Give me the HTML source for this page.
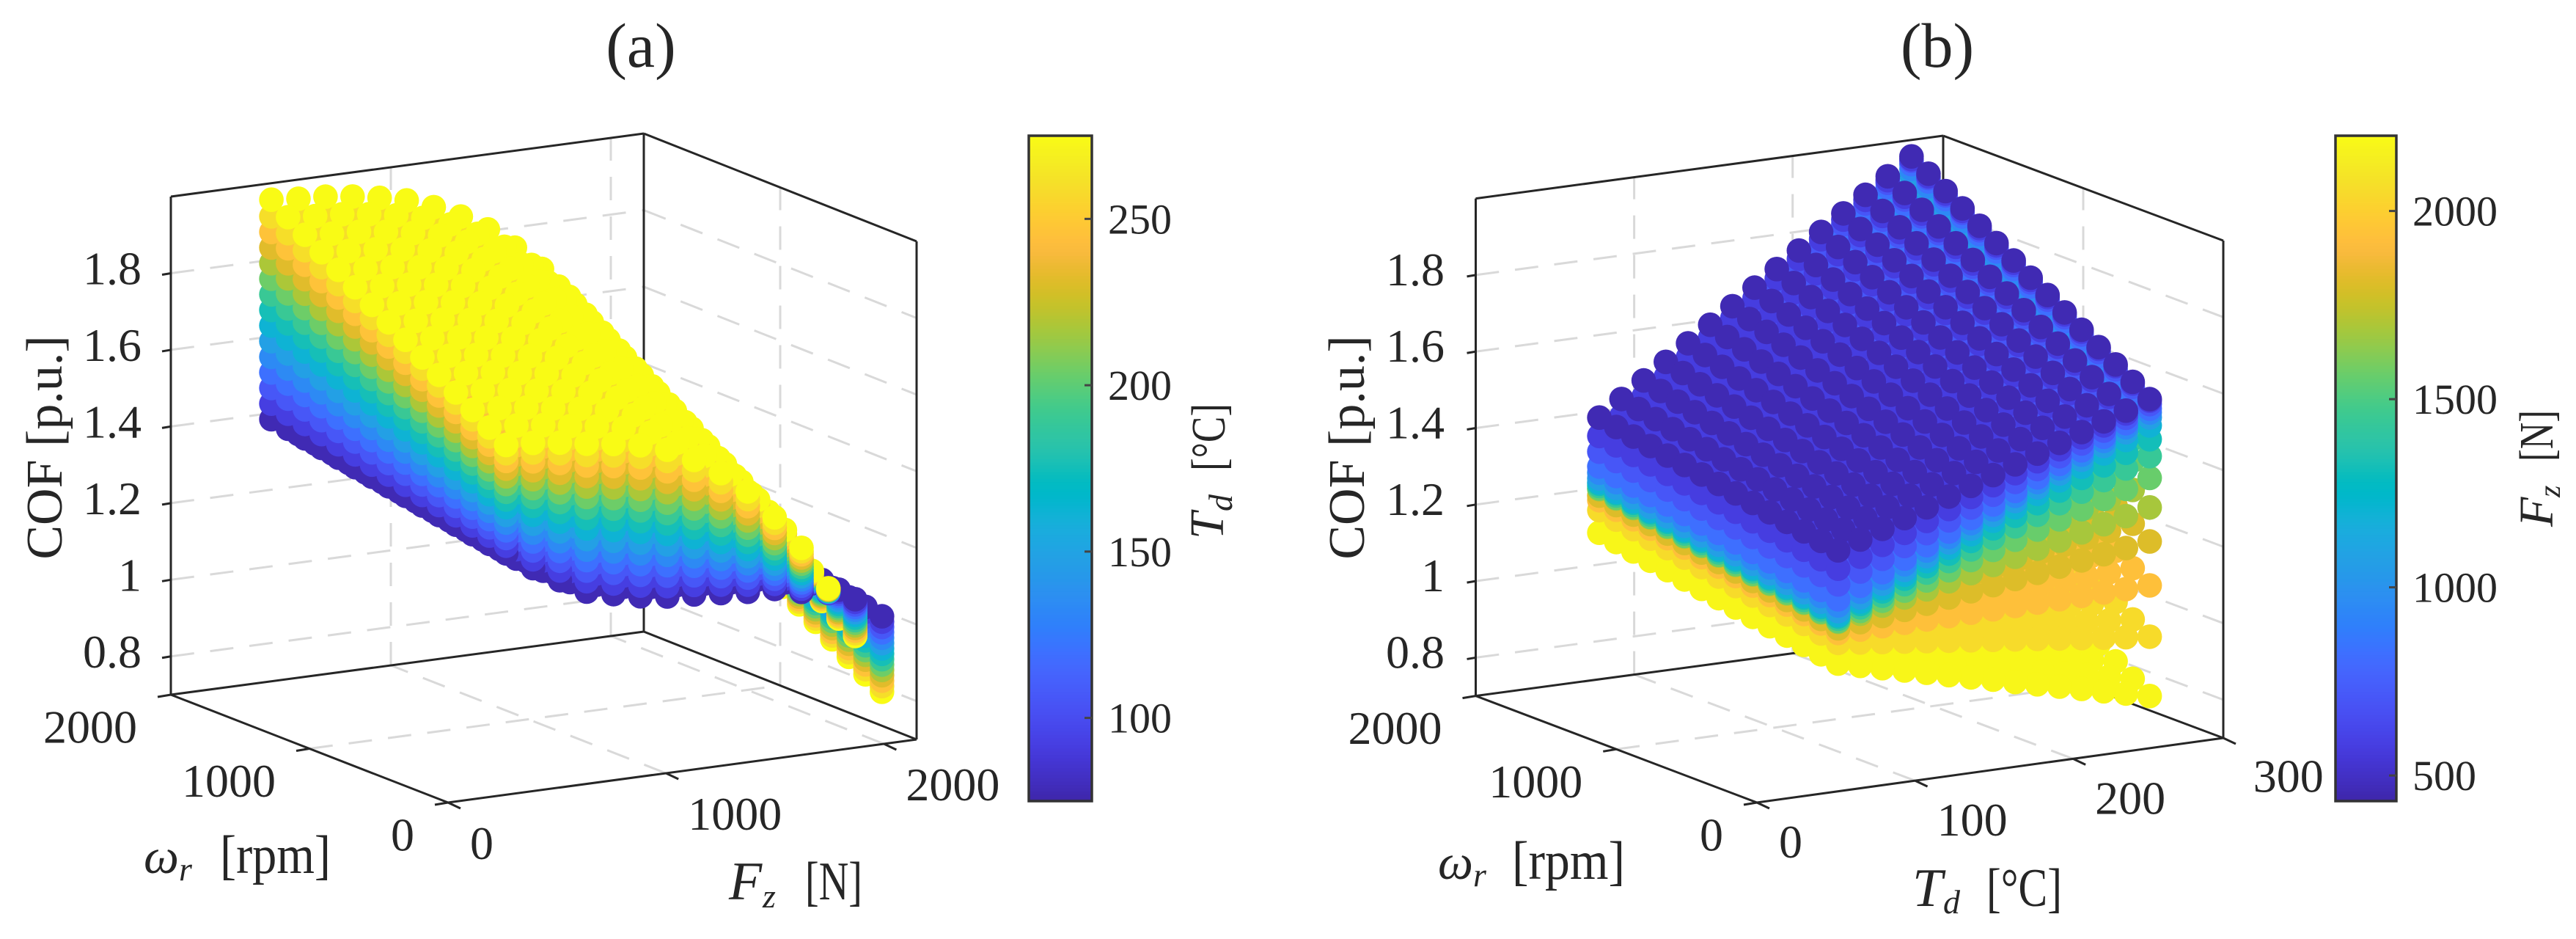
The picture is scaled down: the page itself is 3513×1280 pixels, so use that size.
<!DOCTYPE html>
<html lang="en">
<head>
<meta charset="utf-8">
<title>COF scatter plots</title>
<style>
html,body{margin:0;padding:0;background:#fff;}
svg{display:block;font-family:"Liberation Serif",serif;fill:#262626;}
text{fill:#262626;}
</style>
</head>
<body>
<svg id="figure" xmlns="http://www.w3.org/2000/svg" width="3513" height="1280" viewBox="0 0 3513 1280">
  <rect x="0" y="0" width="3513" height="1280" fill="#fff"/>
  <g id="panel-a"></g>
  <g id="panel-b"></g>

  <text x="874" y="91" font-size="86" text-anchor="middle">(a)</text>
  <text x="2642" y="91" font-size="86" text-anchor="middle">(b)</text>

  <!-- panel a labels -->
  <text transform="translate(84,610) rotate(-90)" font-size="70" text-anchor="middle">COF [p.u.]</text>
  <text x="196" y="1190" font-size="68" font-style="italic">ω</text>
  <text x="244" y="1200" font-size="46" font-style="italic">r</text>
  <text x="300" y="1190" font-size="74" textLength="151" lengthAdjust="spacingAndGlyphs">[rpm]</text>
  <text x="994" y="1226" font-size="74" font-style="italic">F</text>
  <text x="1040" y="1237" font-size="46" font-style="italic">z</text>
  <text x="1098" y="1226" font-size="74" textLength="78" lengthAdjust="spacingAndGlyphs">[N]</text>
  <text transform="translate(1668,735) rotate(-90)" font-size="66" font-style="italic">T</text>
  <text transform="translate(1680,697) rotate(-90)" font-size="46" font-style="italic">d</text>
  <text transform="translate(1670,642) rotate(-90)" font-size="66" textLength="92" lengthAdjust="spacingAndGlyphs">[°C]</text>

  <!-- panel b labels -->
  <text transform="translate(1860,610) rotate(-90)" font-size="70" text-anchor="middle">COF [p.u.]</text>
  <text x="1961" y="1198" font-size="68" font-style="italic">ω</text>
  <text x="2009" y="1208" font-size="46" font-style="italic">r</text>
  <text x="2062" y="1198" font-size="74" textLength="154" lengthAdjust="spacingAndGlyphs">[rpm]</text>
  <text x="2608" y="1235" font-size="74" font-style="italic">T</text>
  <text x="2650" y="1245" font-size="46" font-style="italic">d</text>
  <text x="2709" y="1235" font-size="74" textLength="103" lengthAdjust="spacingAndGlyphs">[°C]</text>
  <text transform="translate(3481,718) rotate(-90)" font-size="66" font-style="italic">F</text>
  <text transform="translate(3491,678) rotate(-90)" font-size="42" font-style="italic">z</text>
  <text transform="translate(3481,629) rotate(-90)" font-size="66" textLength="70" lengthAdjust="spacingAndGlyphs">[N]</text>
</svg>

<script>
// Grid levels
const fzLevels = [457,580,703,826,949,1072,1195,1318,1441,1564,1687,1810,1933,2056,2179];
const speedLevels = [300,421,543,664,786,907,1029,1150,1271,1393,1514,1636,1757,1879,2000];
const tempLevels = [78,92,106,120,134,148,162,176,190,204,218,232,246,260,275];

const cofColdLowSpeed  = [1.273,1.225,1.184,1.145,1.129,1.114,1.104,1.100,1.094,1.088,1.086,1.069,1.057,1.031,0.977];
const cofHotLowSpeed   = [1.556,1.552,1.543,1.531,1.521,1.508,1.487,1.451,1.407,1.350,1.273,1.184,1.069,0.935,0.780];
const cofColdHighSpeed = [1.384,1.336,1.295,1.256,1.240,1.225,1.215,1.211,1.205,1.199,1.197,1.180,1.168,1.142,1.083];
const cofHotHighSpeed  = [1.957,1.950,1.946,1.937,1.924,1.908,1.881,1.847,1.804,1.747,1.682,1.600,1.470,1.335,1.180];

// Axis ticks
const cofTicks = [0.8,1,1.2,1.4,1.6,1.8];
const cofTickLabels = ['0.8','1','1.2','1.4','1.6','1.8'];
const speedTicks = [0,1000,2000];
const speedTickLabels = ['0','1000','2000'];
const fzTicks = [0,1000,2000];
const fzTickLabels = ['0','1000','2000'];
const tempTicks = [0,100,200,300];
const tempTickLabels = ['0','100','200','300'];
const tempColorbarTicks = [100,150,200,250];
const tempColorbarLabels = ['100','150','200','250'];
const fzColorbarTicks = [500,1000,1500,2000];
const fzColorbarLabels = ['500','1000','1500','2000'];

// Parula colormap
const parula = [
[0.2422,0.1504,0.6603],[0.2504,0.1650,0.7076],[0.2578,0.1818,0.7511],[0.2647,0.1978,0.7952],
[0.2706,0.2147,0.8364],[0.2751,0.2342,0.8710],[0.2783,0.2559,0.8991],[0.2803,0.2782,0.9221],
[0.2813,0.3006,0.9414],[0.2810,0.3228,0.9579],[0.2795,0.3447,0.9717],[0.2760,0.3667,0.9829],
[0.2699,0.3892,0.9906],[0.2602,0.4123,0.9952],[0.2440,0.4358,0.9988],[0.2206,0.4603,0.9973],
[0.1963,0.4847,0.9892],[0.1834,0.5074,0.9798],[0.1786,0.5289,0.9682],[0.1764,0.5499,0.9520],
[0.1687,0.5703,0.9359],[0.1540,0.5902,0.9218],[0.1460,0.6091,0.9079],[0.1380,0.6276,0.8973],
[0.1248,0.6459,0.8883],[0.1113,0.6635,0.8763],[0.0952,0.6798,0.8598],[0.0689,0.6948,0.8394],
[0.0297,0.7082,0.8163],[0.0036,0.7203,0.7917],[0.0067,0.7312,0.7660],[0.0433,0.7411,0.7394],
[0.0964,0.7500,0.7120],[0.1408,0.7584,0.6842],[0.1717,0.7670,0.6554],[0.1938,0.7758,0.6251],
[0.2161,0.7843,0.5923],[0.2470,0.7918,0.5567],[0.2906,0.7973,0.5188],[0.3406,0.8008,0.4789],
[0.3909,0.8029,0.4354],[0.4456,0.8024,0.3909],[0.5044,0.7993,0.3480],[0.5616,0.7942,0.3045],
[0.6174,0.7876,0.2612],[0.6720,0.7793,0.2227],[0.7242,0.7698,0.1910],[0.7738,0.7598,0.1646],
[0.8203,0.7498,0.1535],[0.8634,0.7406,0.1596],[0.9035,0.7330,0.1774],[0.9393,0.7288,0.2100],
[0.9728,0.7298,0.2394],[0.9956,0.7434,0.2371],[0.9970,0.7659,0.2199],[0.9952,0.7893,0.2028],
[0.9892,0.8136,0.1885],[0.9786,0.8386,0.1766],[0.9676,0.8639,0.1643],[0.9610,0.8890,0.1537],
[0.9597,0.9135,0.1423],[0.9628,0.9373,0.1265],[0.9691,0.9606,0.1064],[0.9769,0.9839,0.0805]];

const SVG_NS = 'http://www.w3.org/2000/svg';

function colorAt(f) {
  const n = parula.length - 1;
  const p = Math.max(0, Math.min(1, f)) * n;
  const i = Math.min(n - 1, Math.floor(p));
  const t = p - i;
  const out = [0,1,2].map(function (a) { return Math.round(255 * (parula[i][a] + (parula[i + 1][a] - parula[i][a]) * t)); });
  return 'rgb(' + out[0] + ',' + out[1] + ',' + out[2] + ')';
}

function svgEl(parent, tag, attrs) {
  const el = document.createElementNS(SVG_NS, tag);
  Object.keys(attrs).forEach(function (k) { el.setAttribute(k, attrs[k]); });
  parent.appendChild(el);
  return el;
}

function cofAt(i, j, k) {
  const s = (speedLevels[j] - speedLevels[0]) / (speedLevels[speedLevels.length - 1] - speedLevels[0]);
  const t = (tempLevels[k] - tempLevels[0]) / (tempLevels[tempLevels.length - 1] - tempLevels[0]);
  const low = cofColdLowSpeed[i] + (cofHotLowSpeed[i] - cofColdLowSpeed[i]) * t;
  const high = cofColdHighSpeed[i] + (cofHotHighSpeed[i] - cofColdHighSpeed[i]) * t;
  return low + (high - low) * s;
}

function drawPanel(cfg) {
  const root = document.getElementById(cfg.id);
  const f = cfg.front, r = cfg.right, l = cfg.left, b = cfg.back;
  const zMin = 0.7, zMax = 2.0, speedMax = 2000;

  function floorAt(u, v) {
    const x0 = f[0] + (r[0] - f[0]) * u, y0 = f[1] + (r[1] - f[1]) * u;
    const x1 = l[0] + (b[0] - l[0]) * u, y1 = l[1] + (b[1] - l[1]) * u;
    return [x0 + (x1 - x0) * v, y0 + (y1 - y0) * v];
  }
  function zPx(z) { return (z - zMin) * cfg.zHeight / (zMax - zMin); }
  function project(a, speed, z) {
    const p = floorAt(a / cfg.xMax, speed / speedMax);
    return [p[0], p[1] - zPx(z)];
  }
  function line(p, q, stroke, width, dash) {
    const el = svgEl(root, 'line', {x1: p[0], y1: p[1], x2: q[0], y2: q[1], stroke: stroke, 'stroke-width': width});
    if (dash) el.setAttribute('stroke-dasharray', dash);
    return el;
  }
  const gridColor = '#d9d9d9', boxColor = '#262626', dash = '32 22';

  // grid
  cofTicks.forEach(function (z) {
    const a = project(0, speedMax, z), m = project(cfg.xMax, speedMax, z), e = project(cfg.xMax, 0, z);
    const g1 = line(a, m, gridColor, 3, dash);
    
    
    const g2 = line(m, e, gridColor, 3, dash);
    
    
  });
  cfg.xTicks.forEach(function (x) {
    if (x <= 0 || x >= cfg.xMax) return;
    const g1 = line(project(x, speedMax, zMin), project(x, speedMax, zMax), gridColor, 3, dash);
    
    
    const g2 = line(project(x, 0, zMin), project(x, speedMax, zMin), gridColor, 3, dash);
    
    
  });
  speedTicks.forEach(function (w) {
    if (w <= 0 || w >= speedMax) return;
    const g1 = line(project(cfg.xMax, w, zMin), project(cfg.xMax, w, zMax), gridColor, 3, dash);
    
    
    const g2 = line(project(0, w, zMin), project(cfg.xMax, w, zMin), gridColor, 3, dash);
    
    
  });

  // box
  const edges = [
    [[0, speedMax, zMin], [0, speedMax, zMax]],
    [[0, speedMax, zMax], [cfg.xMax, speedMax, zMax]],
    [[cfg.xMax, speedMax, zMax], [cfg.xMax, 0, zMax]],
    [[cfg.xMax, 0, zMax], [cfg.xMax, 0, zMin]],
    [[cfg.xMax, speedMax, zMax], [cfg.xMax, speedMax, zMin]],
    [[0, speedMax, zMin], [0, 0, zMin]],
    [[0, 0, zMin], [cfg.xMax, 0, zMin]],
    [[0, speedMax, zMin], [cfg.xMax, speedMax, zMin]],
    [[cfg.xMax, speedMax, zMin], [cfg.xMax, 0, zMin]]
  ];
  edges.forEach(function (e) {
    const el = line(project.apply(null, e[0]), project.apply(null, e[1]), boxColor, 3);
    
    
  });

  // ticks and labels
  cofTicks.forEach(function (z, n) {
    const p = project(0, speedMax, z);
    const t = line(p, [p[0] - 12, p[1] + 2], boxColor, 3);
    
    
    const el = svgEl(root, 'text', {x: cfg.zLabelX, y: p[1] + cfg.zLabelDy, 'font-size': 64, 'text-anchor': 'end'});
    el.textContent = cofTickLabels[n];
    
    
  });
  speedTicks.forEach(function (w, n) {
    const p = project(0, w, zMin);
    const t = line(p, [p[0] - 18, p[1] + 3], boxColor, 3);
    
    
    const el = svgEl(root, 'text', {x: p[0] - 46, y: p[1] + 65.5, 'font-size': 64, 'text-anchor': 'end'});
    el.textContent = speedTickLabels[n];
    
    
  });
  cfg.xTicks.forEach(function (x, n) {
    const p = project(x, 0, zMin);
    const q = project(Math.min(x, cfg.xMax), 0, zMin);
    const t = line(q, [q[0] + 17, q[1] + 8], boxColor, 3);
    
    
    const el = svgEl(root, 'text', {x: p[0] + cfg.xLabelDx, y: p[1] + cfg.xLabelDy, 'font-size': 64});
    el.textContent = cfg.xTickLabels[n];
    
    
  });

  // points
  const pts = [];
  fzLevels.forEach(function (fz, i) {
    speedLevels.forEach(function (w, j) {
      tempLevels.forEach(function (temp, k) {
        const z = cofAt(i, j, k);
        const xVal = cfg.xOf(fz, temp);
        pts.push({
          p: project(xVal, w, z),
          depth: 365 * xVal / cfg.xMax + 628 * w / speedMax - 160 * (z - zMin) / (zMax - zMin),
          c: (cfg.colorOf(fz, temp) - cfg.cMin) / (cfg.cMax - cfg.cMin)
        });
      });
    });
  });
  pts.sort(function (a, b2) { return b2.depth - a.depth; });
  const cloud = svgEl(root, 'g', {});
  
  
  pts.forEach(function (q) {
    const dot = svgEl(cloud, 'circle', {cx: q.p[0].toFixed(1), cy: q.p[1].toFixed(1), r: 16.8, fill: colorAt(q.c)});
    
    
  });

  // colorbar
  const cb = cfg.colorbar;
  const bar = svgEl(root, 'g', {});
  
  
  const bands = 200;
  for (let n = 0; n < bands; n++) {
    const h = (cb.y1 - cb.y0) / bands;
    const band = svgEl(bar, 'rect', {x: cb.x0, y: cb.y1 - (n + 1) * h, width: cb.x1 - cb.x0, height: h + 0.7, fill: colorAt((n + 0.5) / bands)});
    
    
  }
  const frame = svgEl(bar, 'rect', {x: cb.x0, y: cb.y0, width: cb.x1 - cb.x0, height: cb.y1 - cb.y0, fill: 'none', stroke: '#333', 'stroke-width': 3.5});
  
  
  cb.ticks.forEach(function (v, n) {
    const y = cb.y1 - (v - cfg.cMin) / (cfg.cMax - cfg.cMin) * (cb.y1 - cb.y0);
    const t = svgEl(bar, 'line', {x1: cb.x1 - 10, x2: cb.x1, y1: y, y2: y, stroke: '#444', 'stroke-width': 3});
    
    
    const el = svgEl(bar, 'text', {x: cb.labelX, y: y + 20, 'font-size': 58});
    el.textContent = cb.labels[n];
    
    
  });
}

drawPanel({
  id: 'panel-a',
  front: [611, 1094], right: [1250, 1008], left: [233, 947], back: [878, 861],
  zHeight: 679, xMax: 2150,
  xTicks: fzTicks, xTickLabels: fzTickLabels,
  xOf: function (fz, temp) { return fz; },
  colorOf: function (fz, temp) { return temp; },
  cMin: 75, cMax: 275,
  zLabelX: 193, zLabelDy: 15, xLabelDx: 30, xLabelDy: 77,
  colorbar: {x0: 1403, x1: 1489, y0: 185, y1: 1092, labelX: 1511, ticks: tempColorbarTicks, labels: tempColorbarLabels}
});

drawPanel({
  id: 'panel-b',
  front: [2396, 1094], right: [3032, 1006], left: [2012.5, 948.6], back: [2650, 863],
  zHeight: 678, xMax: 295,
  xTicks: tempTicks, xTickLabels: tempTickLabels,
  xOf: function (fz, temp) { return temp; },
  colorOf: function (fz, temp) { return fz; },
  cMin: 432, cMax: 2200,
  zLabelX: 1970, zLabelDy: 14, xLabelDx: 30, xLabelDy: 75,
  colorbar: {x0: 3185, x1: 3268, y0: 185, y1: 1092, labelX: 3290, ticks: fzColorbarTicks, labels: fzColorbarLabels}
});
</script>
</body>
</html>
